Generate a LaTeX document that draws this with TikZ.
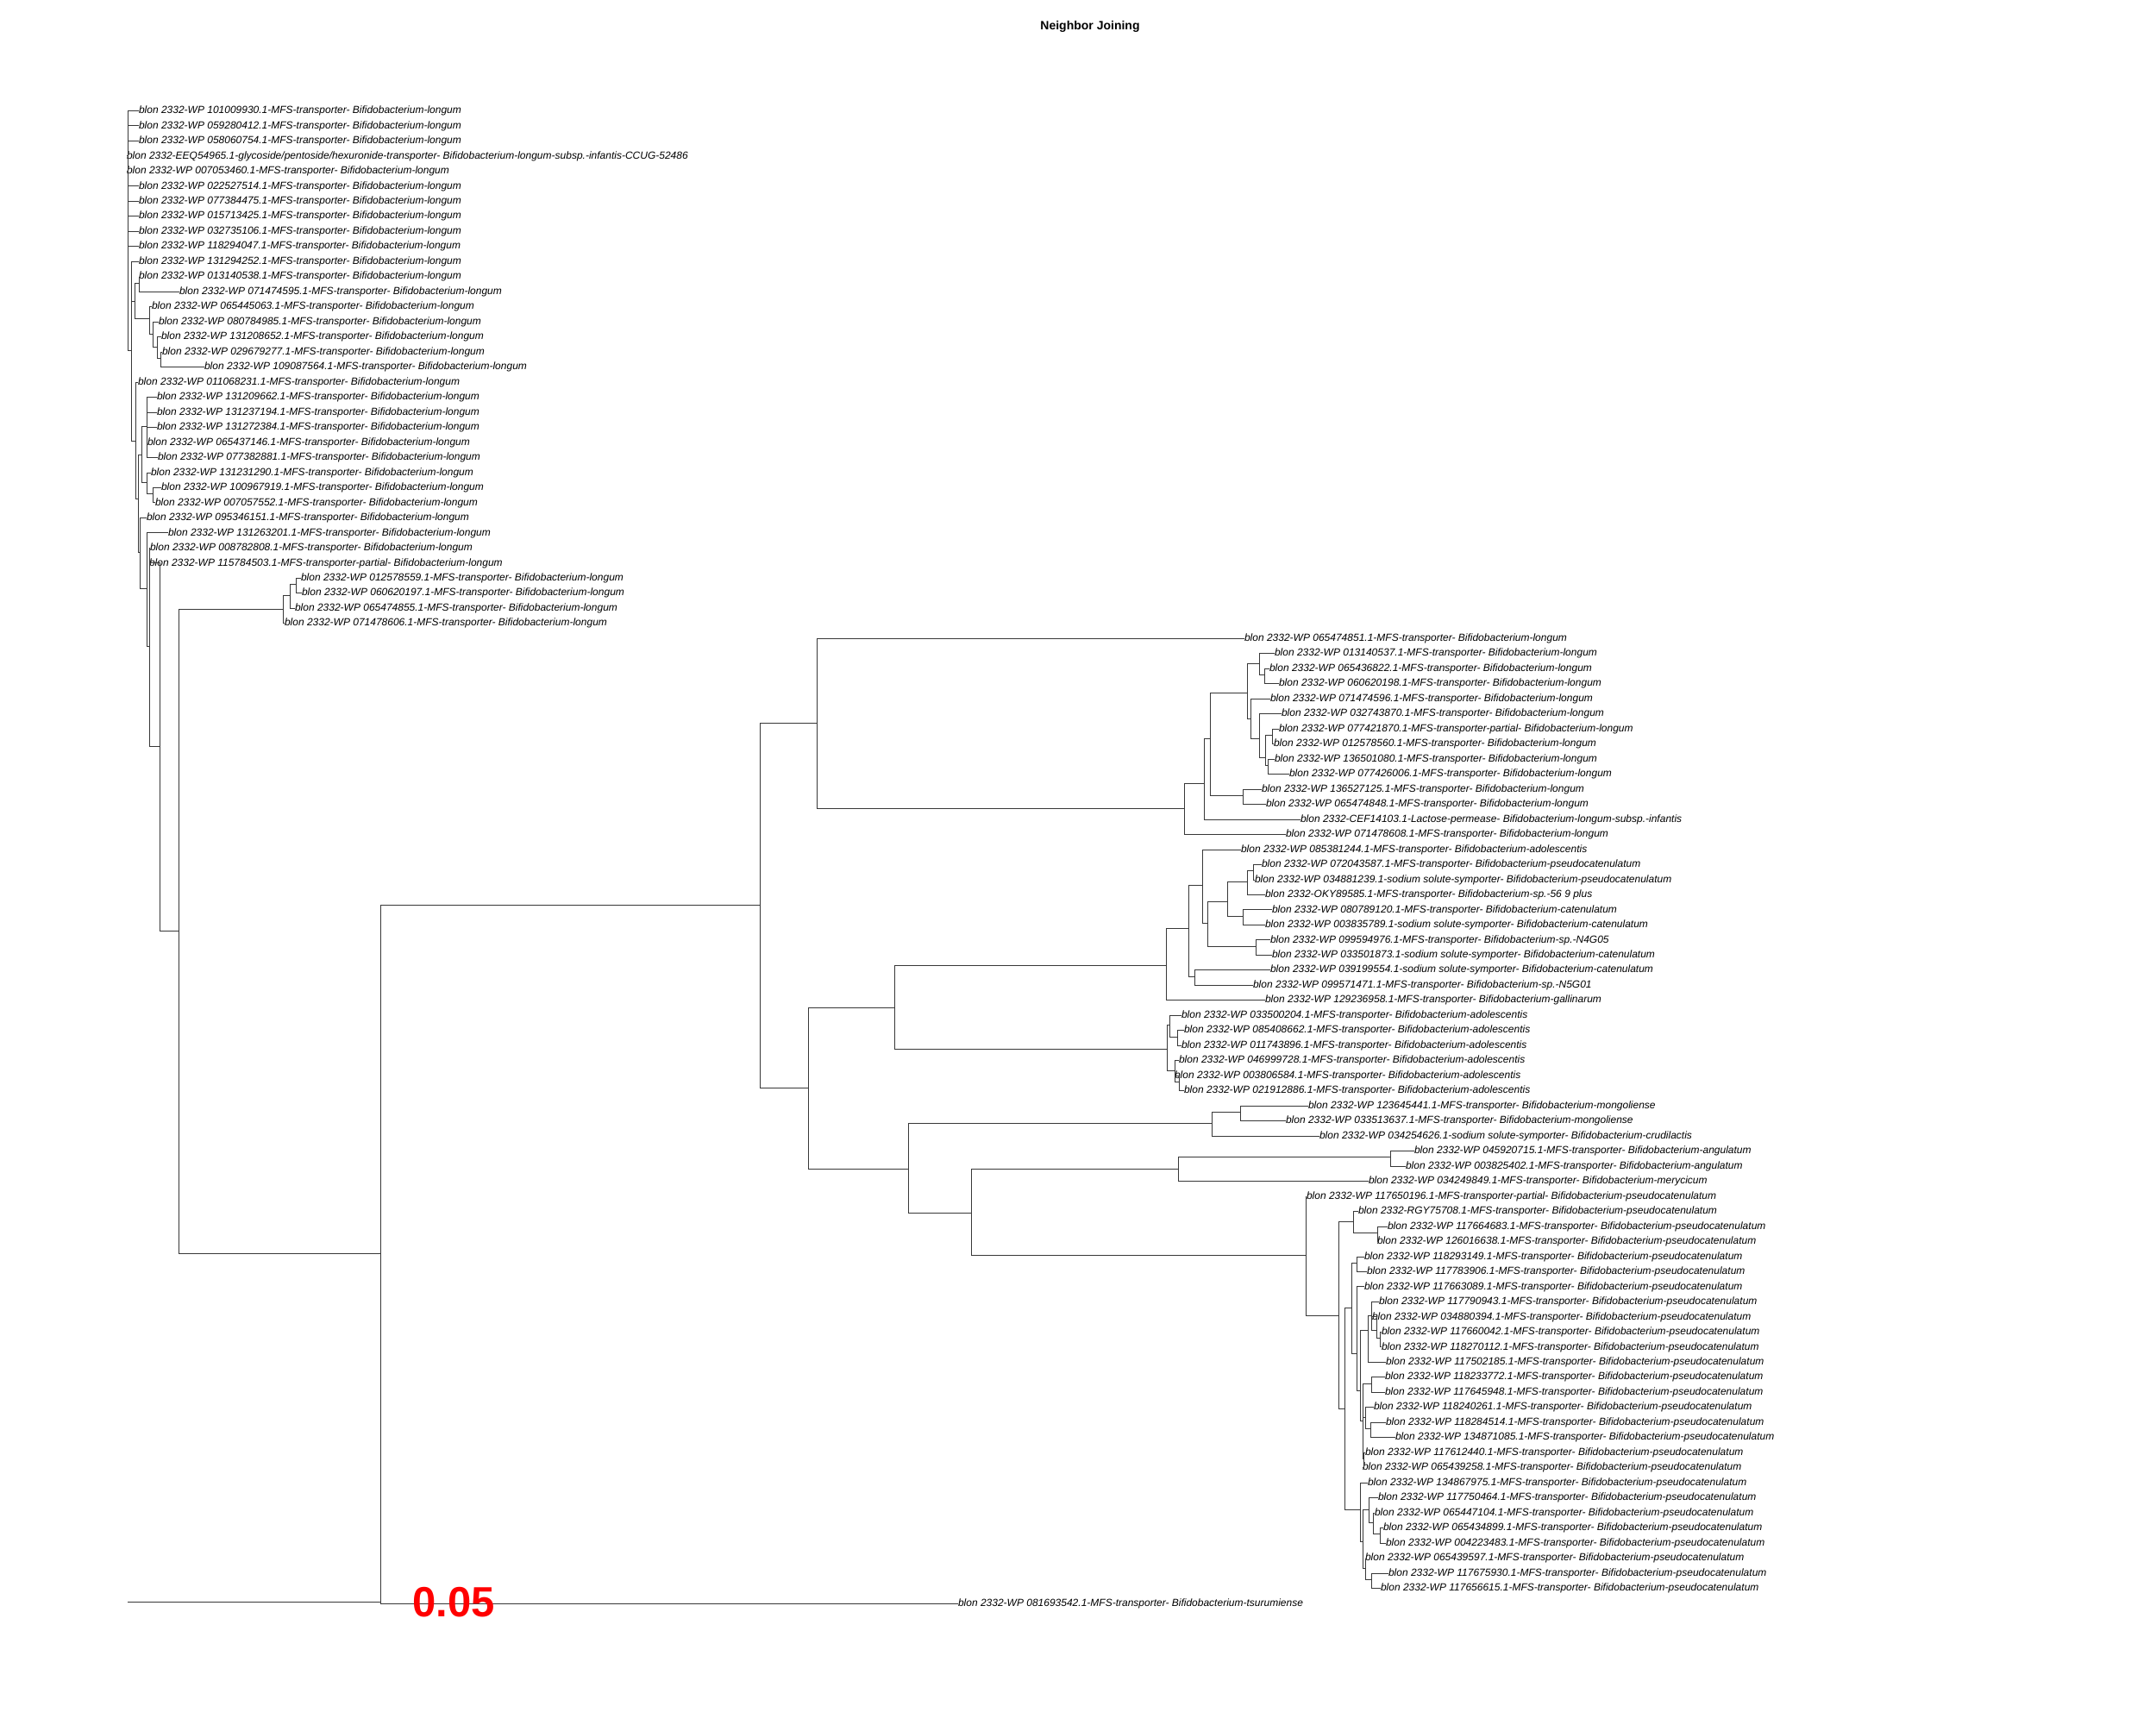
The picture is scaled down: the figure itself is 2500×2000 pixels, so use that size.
\documentclass[tikz,border=0pt]{standalone}
\usepackage{fontspec}
\setmainfont{Liberation Sans}
\newcommand\lmfs[2]{blon 2332-WP #1.1-MFS-transporter- Bifidobacterium-#2}
\newcommand\lsod[2]{blon 2332-WP #1.1-sodium solute-symporter- Bifidobacterium-#2}
\tikzset{
  br/.style={draw=black!78, line width=0.4pt},
  lf/.style={anchor=west, inner sep=0pt, outer sep=0pt, yshift=-0.6pt, font=\fontsize{4.8pt}{5pt}\selectfont\itshape},
}
\begin{document}
\begin{tikzpicture}[x=0.4pt,y=-0.4pt]
\path[use as bounding box] (0,0) rectangle (2500,2000);
\node[font=\bfseries\fontsize{5.6pt}{6pt}\selectfont] (title) at (1264,31) {Neighbor Joining};
\begin{scope}[yshift=-43.808pt, y=-6.992pt]
% internal nodes (x in px, y in rows)
\coordinate (R0) at (148,9);
\coordinate (N11) at (152,17);
\coordinate (P1) at (156,13.7);
\coordinate (N12) at (161,12.5);
\coordinate (N14) at (173,14.9);
\coordinate (N15) at (177,15.9);
\coordinate (N16) at (182,16.75);
\coordinate (N17) at (186,17.5);
\coordinate (Y3) at (157,23);
\coordinate (Yx) at (160,26.85);
\coordinate (N19b) at (164,23.9);
\coordinate (N20) at (170,22);
\coordinate (N25) at (170,25.75);
\coordinate (N26) at (177,26.5);
\coordinate (Y) at (162,30.4);
\coordinate (N29) at (170,32.8);
\coordinate (N30) at (173,36.6);
\coordinate (Z) at (185,43.25);
\coordinate (T) at (207,55.5);
\coordinate (Q4) at (328,34.15);
\coordinate (Q5) at (336,33.25);
\coordinate (Q6) at (343,32.5);
\coordinate (R) at (441,76.9);
\coordinate (A) at (881,53.8);
\coordinate (B) at (947,41.68);
\coordinate (D) at (1373,47.36);
\coordinate (F) at (1396,45.7);
\coordinate (G) at (1403,42.75);
\coordinate (H) at (1446,39.7);
\coordinate (E1) at (1460,37.75);
\coordinate (E2) at (1466,38.5);
\coordinate (E4) at (1450,41.4);
\coordinate (E5) at (1460,42.75);
\coordinate (E8) at (1467,44.0);
\coordinate (E6) at (1475,42.5);
\coordinate (E9) at (1470,44.5);
\coordinate (I) at (1441,46.5);
\coordinate (C) at (937,65.9);
\coordinate (J) at (1037,60.6);
\coordinate (M) at (1352,57.8);
\coordinate (O) at (1378,55.3);
\coordinate (P) at (1394,52.45);
\coordinate (Q) at (1385,58.5);
\coordinate (R2) at (1400,55.0);
\coordinate (S) at (1423,53.55);
\coordinate (U) at (1446,52.25);
\coordinate (W) at (1453,51.5);
\coordinate (V) at (1441,54.5);
\coordinate (T2) at (1456,56.5);
\coordinate (N) at (1353,63.3);
\coordinate (N1) at (1356,61.75);
\coordinate (N3) at (1365,62.5);
\coordinate (N2) at (1362,64.75);
\coordinate (N4) at (1367,65.5);
\coordinate (K) at (1053,71.25);
\coordinate (K1) at (1405,68.25);
\coordinate (K3) at (1438,67.5);
\coordinate (K2) at (1126,74.2);
\coordinate (K4) at (1366,71.25);
\coordinate (K5) at (1612,70.5);
\coordinate (PS) at (1514,77);
\coordinate (PS2) at (1552,81);
\coordinate (PS3) at (1569,74.75);
\coordinate (PS5) at (1597,75.5);
\coordinate (PS4) at (1559,87.2);
\coordinate (PS6) at (1567,80.5);
\coordinate (PS8) at (1573,77.5);
\coordinate (PS9) at (1573,83.5);
\coordinate (PS10) at (1577,86);
\coordinate (PS18) at (1586,82);
\coordinate (PS20) at (1590,81);
\coordinate (PS21) at (1596,82);
\coordinate (PS22) at (1600,82.5);
\coordinate (PS19) at (1580,88);
\coordinate (PS23) at (1590,85.5);
\coordinate (PS24) at (1583,87.75);
\coordinate (PS25) at (1589,88.5);
\coordinate (PS26) at (1581,90.5);
\coordinate (PS11) at (1577,93.9);
\coordinate (PS12) at (1580,96);
\coordinate (PS13) at (1587,93.9);
\coordinate (PS16) at (1592,94.75);
\coordinate (PS17) at (1600,95.5);
\coordinate (PS14) at (1583,97.75);
\coordinate (PS15) at (1590,98.5);
% leaves
\node[lf] (L1) at (161,1) {\lmfs{101009930}{longum}};
\node[lf] (L2) at (161,2) {\lmfs{059280412}{longum}};
\node[lf] (L3) at (161,3) {\lmfs{058060754}{longum}};
\node[lf] (L4) at (147,4) {blon 2332-EEQ54965.1-glycoside/pentoside/hexuronide-transporter- Bifidobacterium-longum-subsp.-infantis-CCUG-52486};
\node[lf] (L5) at (147,5) {\lmfs{007053460}{longum}};
\node[lf] (L6) at (161,6) {\lmfs{022527514}{longum}};
\node[lf] (L7) at (161,7) {\lmfs{077384475}{longum}};
\node[lf] (L8) at (161,8) {\lmfs{015713425}{longum}};
\node[lf] (L9) at (161,9) {\lmfs{032735106}{longum}};
\node[lf] (L10) at (161,10) {\lmfs{118294047}{longum}};
\node[lf] (L11) at (161,11) {\lmfs{131294252}{longum}};
\node[lf] (L12) at (161,12) {\lmfs{013140538}{longum}};
\node[lf] (L13) at (208,13) {\lmfs{071474595}{longum}};
\node[lf] (L14) at (176,14) {\lmfs{065445063}{longum}};
\node[lf] (L15) at (184,15) {\lmfs{080784985}{longum}};
\node[lf] (L16) at (187,16) {\lmfs{131208652}{longum}};
\node[lf] (L17) at (188,17) {\lmfs{029679277}{longum}};
\node[lf] (L18) at (237,18) {\lmfs{109087564}{longum}};
\node[lf] (L19) at (160,19) {\lmfs{011068231}{longum}};
\node[lf] (L20) at (182,20) {\lmfs{131209662}{longum}};
\node[lf] (L21) at (182,21) {\lmfs{131237194}{longum}};
\node[lf] (L22) at (182,22) {\lmfs{131272384}{longum}};
\node[lf] (L23) at (171,23) {\lmfs{065437146}{longum}};
\node[lf] (L24) at (183,24) {\lmfs{077382881}{longum}};
\node[lf] (L25) at (175,25) {\lmfs{131231290}{longum}};
\node[lf] (L26) at (187,26) {\lmfs{100967919}{longum}};
\node[lf] (L27) at (180,27) {\lmfs{007057552}{longum}};
\node[lf] (L28) at (170,28) {\lmfs{095346151}{longum}};
\node[lf] (L29) at (195,29) {\lmfs{131263201}{longum}};
\node[lf] (L30) at (174,30) {\lmfs{008782808}{longum}};
\node[lf] (L31) at (173,31) {blon 2332-WP 115784503.1-MFS-transporter-partial- Bifidobacterium-longum};
\node[lf] (L32) at (349,32) {\lmfs{012578559}{longum}};
\node[lf] (L33) at (350,33) {\lmfs{060620197}{longum}};
\node[lf] (L34) at (342,34) {\lmfs{065474855}{longum}};
\node[lf] (L35) at (330,35) {\lmfs{071478606}{longum}};
\node[lf] (L36) at (1443,36) {\lmfs{065474851}{longum}};
\node[lf] (L37) at (1478,37) {\lmfs{013140537}{longum}};
\node[lf] (L38) at (1472,38) {\lmfs{065436822}{longum}};
\node[lf] (L39) at (1483,39) {\lmfs{060620198}{longum}};
\node[lf] (L40) at (1473,40) {\lmfs{071474596}{longum}};
\node[lf] (L41) at (1486,41) {\lmfs{032743870}{longum}};
\node[lf] (L42) at (1483,42) {blon 2332-WP 077421870.1-MFS-transporter-partial- Bifidobacterium-longum};
\node[lf] (L43) at (1477,43) {\lmfs{012578560}{longum}};
\node[lf] (L44) at (1478,44) {\lmfs{136501080}{longum}};
\node[lf] (L45) at (1495,45) {\lmfs{077426006}{longum}};
\node[lf] (L46) at (1463,46) {\lmfs{136527125}{longum}};
\node[lf] (L47) at (1468,47) {\lmfs{065474848}{longum}};
\node[lf] (L48) at (1508,48) {blon 2332-CEF14103.1-Lactose-permease- Bifidobacterium-longum-subsp.-infantis};
\node[lf] (L49) at (1491,49) {\lmfs{071478608}{longum}};
\node[lf] (L50) at (1439,50) {\lmfs{085381244}{adolescentis}};
\node[lf] (L51) at (1463,51) {\lmfs{072043587}{pseudocatenulatum}};
\node[lf] (L52) at (1455,52) {\lsod{034881239}{pseudocatenulatum}};
\node[lf] (L53) at (1467,53) {blon 2332-OKY89585.1-MFS-transporter- Bifidobacterium-sp.-56 9 plus};
\node[lf] (L54) at (1475,54) {\lmfs{080789120}{catenulatum}};
\node[lf] (L55) at (1467,55) {\lsod{003835789}{catenulatum}};
\node[lf] (L56) at (1473,56) {\lmfs{099594976}{sp.-N4G05}};
\node[lf] (L57) at (1475,57) {\lsod{033501873}{catenulatum}};
\node[lf] (L58) at (1473,58) {\lsod{039199554}{catenulatum}};
\node[lf] (L59) at (1453,59) {\lmfs{099571471}{sp.-N5G01}};
\node[lf] (L60) at (1467,60) {\lmfs{129236958}{gallinarum}};
\node[lf] (L61) at (1370,61) {\lmfs{033500204}{adolescentis}};
\node[lf] (L62) at (1373,62) {\lmfs{085408662}{adolescentis}};
\node[lf] (L63) at (1370,63) {\lmfs{011743896}{adolescentis}};
\node[lf] (L64) at (1367,64) {\lmfs{046999728}{adolescentis}};
\node[lf] (L65) at (1362,65) {\lmfs{003806584}{adolescentis}};
\node[lf] (L66) at (1373,66) {\lmfs{021912886}{adolescentis}};
\node[lf] (L67) at (1517,67) {\lmfs{123645441}{mongoliense}};
\node[lf] (L68) at (1491,68) {\lmfs{033513637}{mongoliense}};
\node[lf] (L69) at (1530,69) {\lsod{034254626}{crudilactis}};
\node[lf] (L70) at (1640,70) {\lmfs{045920715}{angulatum}};
\node[lf] (L71) at (1630,71) {\lmfs{003825402}{angulatum}};
\node[lf] (L72) at (1587,72) {\lmfs{034249849}{merycicum}};
\node[lf] (L73) at (1515,73) {blon 2332-WP 117650196.1-MFS-transporter-partial- Bifidobacterium-pseudocatenulatum};
\node[lf] (L74) at (1575,74) {blon 2332-RGY75708.1-MFS-transporter- Bifidobacterium-pseudocatenulatum};
\node[lf] (L75) at (1609,75) {\lmfs{117664683}{pseudocatenulatum}};
\node[lf] (L76) at (1597,76) {\lmfs{126016638}{pseudocatenulatum}};
\node[lf] (L77) at (1582,77) {\lmfs{118293149}{pseudocatenulatum}};
\node[lf] (L78) at (1585,78) {\lmfs{117783906}{pseudocatenulatum}};
\node[lf] (L79) at (1582,79) {\lmfs{117663089}{pseudocatenulatum}};
\node[lf] (L80) at (1599,80) {\lmfs{117790943}{pseudocatenulatum}};
\node[lf] (L81) at (1591,81) {\lmfs{034880394}{pseudocatenulatum}};
\node[lf] (L82) at (1602,82) {\lmfs{117660042}{pseudocatenulatum}};
\node[lf] (L83) at (1602,83) {\lmfs{118270112}{pseudocatenulatum}};
\node[lf] (L84) at (1607,84) {\lmfs{117502185}{pseudocatenulatum}};
\node[lf] (L85) at (1606,85) {\lmfs{118233772}{pseudocatenulatum}};
\node[lf] (L86) at (1606,86) {\lmfs{117645948}{pseudocatenulatum}};
\node[lf] (L87) at (1593,87) {\lmfs{118240261}{pseudocatenulatum}};
\node[lf] (L88) at (1607,88) {\lmfs{118284514}{pseudocatenulatum}};
\node[lf] (L89) at (1618,89) {\lmfs{134871085}{pseudocatenulatum}};
\node[lf] (L90) at (1583,90) {\lmfs{117612440}{pseudocatenulatum}};
\node[lf] (L91) at (1580,91) {\lmfs{065439258}{pseudocatenulatum}};
\node[lf] (L92) at (1586,92) {\lmfs{134867975}{pseudocatenulatum}};
\node[lf] (L93) at (1598,93) {\lmfs{117750464}{pseudocatenulatum}};
\node[lf] (L94) at (1594,94) {\lmfs{065447104}{pseudocatenulatum}};
\node[lf] (L95) at (1604,95) {\lmfs{065434899}{pseudocatenulatum}};
\node[lf] (L96) at (1607,96) {\lmfs{004223483}{pseudocatenulatum}};
\node[lf] (L97) at (1583,97) {\lmfs{065439597}{pseudocatenulatum}};
\node[lf] (L98) at (1610,98) {\lmfs{117675930}{pseudocatenulatum}};
\node[lf] (L99) at (1601,99) {\lmfs{117656615}{pseudocatenulatum}};
\node[lf] (L100) at (1111,100) {\lmfs{081693542}{tsurumiense}};
% branches
\foreach \a/\b in {
 R0/L1.west, R0/L2.west, R0/L3.west, R0/L4.west, R0/L5.west, R0/L6.west, R0/L7.west, R0/L8.west, R0/L9.west, R0/L10.west, R0/N11,
 N11/L11.west, N11/P1, N11/Y3,
 P1/N12, P1/N14, N12/L12.west, N12/L13.west,
 N14/L14.west, N14/N15, N15/L15.west, N15/N16, N16/L16.west, N16/N17, N17/L17.west, N17/L18.west,
 Y3/L19.west, Y3/Yx, Yx/N19b, Yx/Y, N19b/N20, N19b/N25,
 N20/L20.west, N20/L21.west, N20/L22.west, N20/L23.west, N20/L24.west,
 N25/L25.west, N25/N26, N26/L26.west, N26/L27.west,
 Y/L28.west, Y/N29, N29/L29.west, N29/N30, N30/L30.west, N30/Z, Z/L31.west, Z/T,
 T/Q4, T/R, Q4/Q5, Q4/L35.west, Q5/Q6, Q5/L34.west, Q6/L32.west, Q6/L33.west,
 R/A, R/L100.west, A/B, A/C,
 B/L36.west, B/D, D/F, D/L49.west, F/G, F/L48.west, G/H, G/I,
 H/E1, H/E4, E1/L37.west, E1/E2, E2/L38.west, E2/L39.west,
 E4/L40.west, E4/E5, E5/L41.west, E5/E8, E8/E6, E8/E9, E6/L42.west, E6/L43.west, E9/L44.west, E9/L45.west,
 I/L46.west, I/L47.west,
 C/J, C/K, J/M, J/N, M/O, M/L60.west, O/P, O/Q, P/L50.west, P/R2, Q/L58.west, Q/L59.west,
 R2/S, R2/T2, S/U, S/V, U/W, U/L53.west, W/L51.west, W/L52.west, V/L54.west, V/L55.west, T2/L56.west, T2/L57.west,
 N/N1, N/N2, N1/L61.west, N1/N3, N3/L62.west, N3/L63.west, N2/L64.west, N2/N4, N4/L65.west, N4/L66.west,
 K/K1, K/K2, K1/K3, K1/L69.west, K3/L67.west, K3/L68.west,
 K2/K4, K2/PS, K4/K5, K4/L72.west, K5/L70.west, K5/L71.west,
 PS/L73.west, PS/PS2, PS2/PS3, PS2/PS4, PS3/L74.west, PS3/PS5, PS5/L75.west, PS5/L76.west,
 PS4/PS6, PS4/PS11, PS6/PS8, PS6/PS9, PS8/L77.west, PS8/L78.west,
 PS9/L79.west, PS9/PS10, PS10/PS18, PS10/PS19,
 PS18/PS20, PS18/L84.west, PS20/L80.west, PS20/PS21, PS21/L81.west, PS21/PS22, PS22/L82.west, PS22/L83.west,
 PS19/PS23, PS19/PS24, PS19/PS26, PS23/L85.west, PS23/L86.west, PS24/L87.west, PS24/PS25, PS25/L88.west, PS25/L89.west,
 PS26/L90.west, PS26/L91.west,
 PS11/L92.west, PS11/PS12, PS12/PS13, PS12/PS14, PS13/L93.west, PS13/PS16, PS16/L94.west, PS16/PS17,
 PS17/L95.west, PS17/L96.west, PS14/L97.west, PS14/PS15, PS15/L98.west, PS15/L99.west}
 \draw[br] (\a) |- (\b);
% scale bar
\coordinate (sbA) at (148,100);
\coordinate (sbB) at (441,100);
\draw[br] (sbA) -- (sbB);
\node[anchor=west, inner sep=0pt, text=red, font=\bfseries\fontsize{19.6pt}{20pt}\selectfont] (sbl) at (478,100) {0.05};
\end{scope}
\end{tikzpicture}
\end{document}
